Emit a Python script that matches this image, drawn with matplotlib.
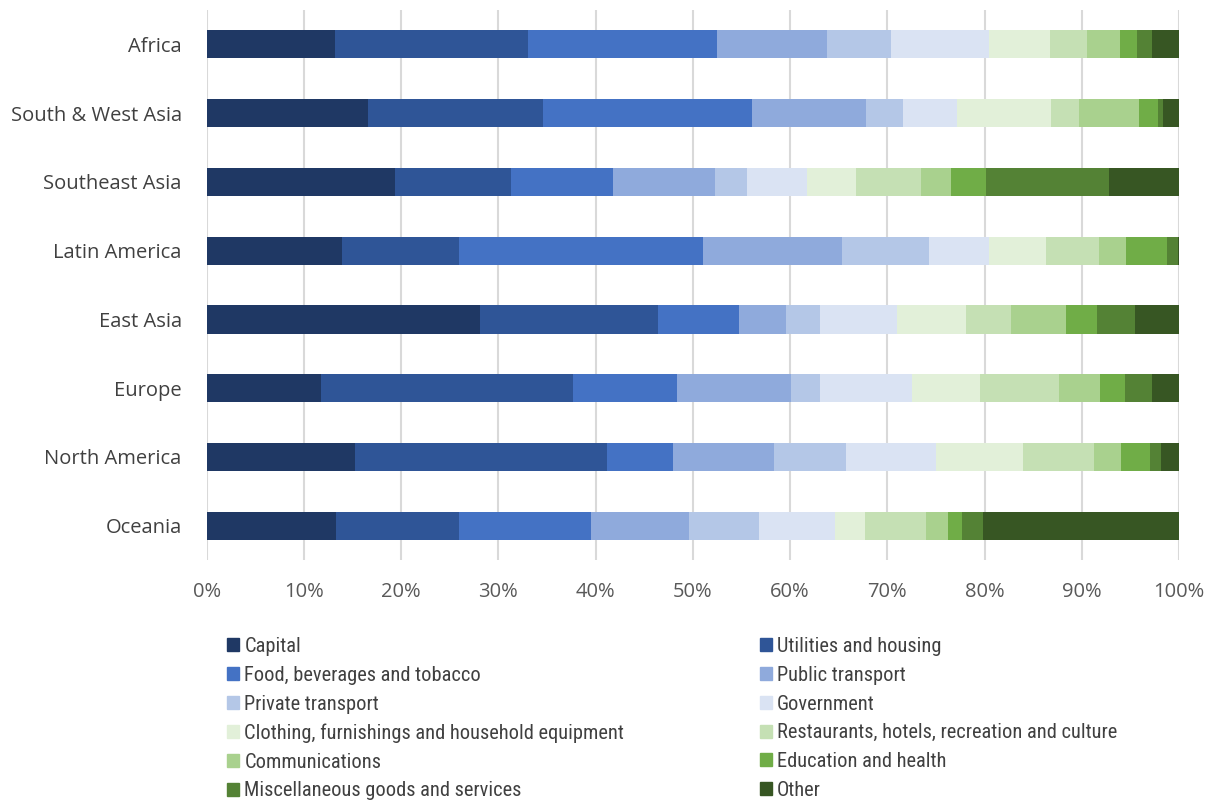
import matplotlib
matplotlib.use('Agg')
import matplotlib.pyplot as plt
from matplotlib.patches import Patch
from matplotlib import font_manager
import numpy as np

regions = ['Africa', 'South & West Asia', 'Southeast Asia', 'Latin America',
           'East Asia', 'Europe', 'North America', 'Oceania']

categories = ['Capital', 'Utilities and housing', 'Food, beverages and tobacco',
              'Public transport', 'Private transport', 'Government',
              'Clothing, furnishings and household equipment',
              'Restaurants, hotels, recreation and culture',
              'Communications', 'Education and health',
              'Miscellaneous goods and services', 'Other']

# share (%) of each category, one list per region
africa    = [13.2, 19.8, 19.5, 11.3, 6.6, 10.1, 6.2, 3.8, 3.4, 1.8, 1.5, 2.8]
sw_asia   = [16.6, 18.0, 21.5, 11.7, 3.8, 5.6, 9.6, 2.9, 6.2, 1.9, 0.6, 1.6]
se_asia   = [19.4, 11.9, 10.5, 10.5, 3.3, 6.1, 5.1, 6.7, 3.1, 3.5, 12.7, 7.2]
latam     = [13.9, 12.0, 25.1, 14.3, 9.0, 6.2, 5.8, 5.5, 2.7, 4.3, 1.1, 0.1]
east_asia = [28.1, 18.3, 8.3, 4.9, 3.5, 7.9, 7.1, 4.6, 5.7, 3.2, 3.9, 4.5]
europe    = [11.8, 25.9, 10.7, 11.7, 3.0, 9.4, 7.0, 8.2, 4.2, 2.5, 2.8, 2.8]
n_america = [15.3, 25.9, 6.8, 10.3, 7.4, 9.3, 9.0, 7.3, 2.7, 3.0, 1.1, 1.9]
oceania   = [13.3, 12.7, 13.5, 10.1, 7.2, 7.8, 3.1, 6.3, 2.2, 1.5, 2.1, 20.2]

colors = ['#1F3864', '#2F5597', '#4472C4', '#8FAADC', '#B4C7E7', '#DAE3F3',
          '#E2F0D9', '#C5E0B4', '#A9D18E', '#70AD47', '#548235', '#375623']

data = np.array([africa, sw_asia, se_asia, latam, east_asia, europe, n_america, oceania])

names = {f.name for f in font_manager.fontManager.ttflist}
main_font = 'Open Sans' if 'Open Sans' in names else 'DejaVu Sans'
leg_font = main_font
leg_size = 13
for cand in ['Roboto Condensed', 'Liberation Sans Narrow', 'Open Sans Condensed']:
    if cand in names:
        leg_font = cand
        leg_size = 14.7
        break

fig = plt.figure(figsize=(12.08, 8.02), dpi=100)
ax = fig.add_axes([0.1711, 0.3017, 0.8049, 0.6858])

y = np.arange(len(regions))
left = np.zeros(len(regions))
for i, cat in enumerate(categories):
    ax.barh(y, data[:, i], left=left, height=0.41, color=colors[i], label=cat)
    left += data[:, i]

ax.set_ylim(-0.5, len(regions) - 0.5)
ax.invert_yaxis()
ax.set_xlim(0, 100)
ax.set_xticks(np.arange(0, 101, 10))
ax.set_xticklabels([f'{v}%' for v in range(0, 101, 10)], fontsize=14.5,
                   color='#595959', family=main_font)
ax.set_yticks(y)
ax.set_yticklabels(regions, fontsize=14.5, color='#404040', family=main_font)
ax.tick_params(length=0)
ax.tick_params(axis='x', pad=16)
ax.tick_params(axis='y', pad=18)
ax.grid(axis='x', color='#D9D9D9', lw=1.5)
ax.set_axisbelow(True)
for s in ax.spines.values():
    s.set_visible(False)

handles = [Patch(color=c) for c in colors]
for col, x0 in enumerate([0.188, 0.629]):
    idx = list(range(col, len(categories), 2))
    fig.legend([handles[k] for k in idx], [categories[k] for k in idx],
               loc='upper left', bbox_to_anchor=(x0, 0.2058), frameon=False,
               handlelength=0.6, handleheight=0.6, handletextpad=0.25,
               labelspacing=0.48, borderpad=0, borderaxespad=0,
               prop={'family': leg_font, 'size': leg_size}, labelcolor='#404040')

fig.savefig('out.png', dpi=100)
